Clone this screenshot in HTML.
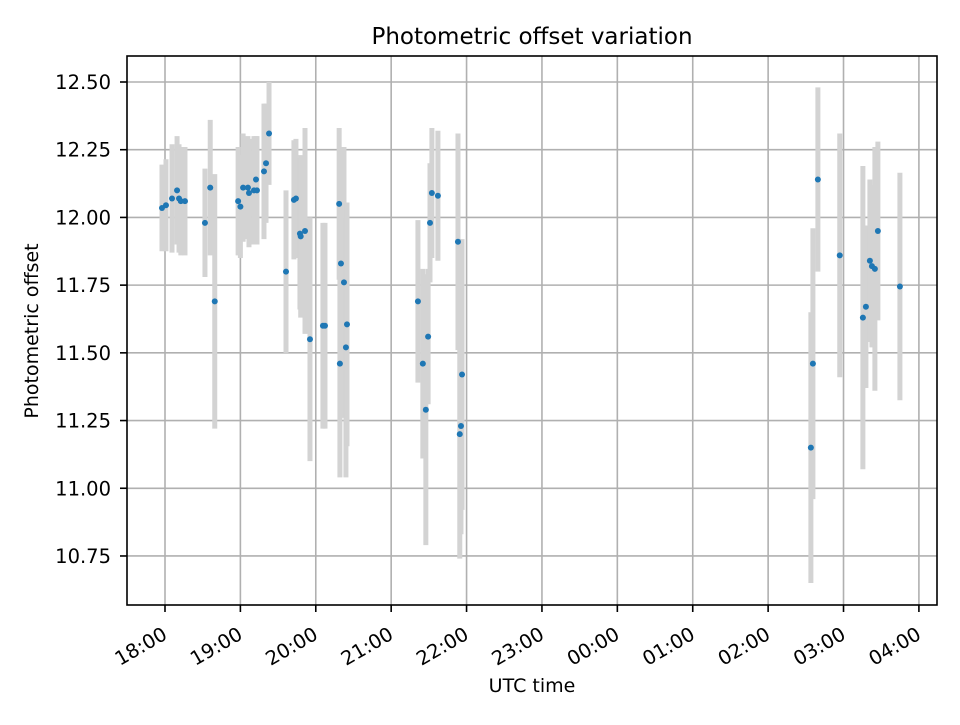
<!DOCTYPE html>
<html><head><meta charset="utf-8">
<style>body{margin:0;background:#fff}svg text{font-family:"DejaVu Sans","Liberation Sans",sans-serif;fill:#000}</style>
</head><body>
<svg id="chart" width="960" height="720" xmlns="http://www.w3.org/2000/svg">
<rect width="960" height="720" fill="#fff"/>
<text x="532" y="44" font-size="23" text-anchor="middle">Photometric offset variation</text>
<g id="grid"></g>
<g id="bars"></g>
<g id="pts"></g>
<rect x="127" y="56" width="810" height="549" fill="none" stroke="#000" stroke-width="1.6"/>
<g id="axes"></g>
<text x="532" y="692" font-size="19" text-anchor="middle">UTC time</text>
<text transform="translate(38,331) rotate(-90)" font-size="19" text-anchor="middle">Photometric offset</text>
</svg>
<script>
// hours after 18:00 UTC
const times=[-0.04,0.013,0.093,0.16,0.186,0.21,0.265,0.53,0.60,0.66,0.97,1.0,1.036,1.10,1.114,1.18,1.207,1.22,1.313,1.34,1.38,1.605,1.71,1.737,1.79,1.80,1.857,1.923,2.095,2.122,2.31,2.32,2.334,2.374,2.40,2.414,3.355,3.42,3.46,3.49,3.515,3.54,3.62,3.886,3.91,3.926,3.94,8.567,8.594,8.66,8.95,9.257,9.297,9.35,9.377,9.416,9.456,9.748];
const offsets=[12.035,12.045,12.07,12.10,12.07,12.06,12.06,11.98,12.11,11.69,12.06,12.04,12.11,12.11,12.09,12.10,12.14,12.10,12.17,12.20,12.31,11.80,12.065,12.07,11.94,11.93,11.95,11.55,11.60,11.60,12.05,11.46,11.83,11.76,11.52,11.605,11.69,11.46,11.29,11.56,11.98,12.09,12.08,11.91,11.20,11.23,11.42,11.15,11.46,12.14,11.86,11.63,11.67,11.84,11.82,11.81,11.95,11.745];
const errors=[0.16,0.17,0.2,0.2,0.2,0.2,0.2,0.2,0.25,0.47,0.2,0.19,0.2,0.19,0.2,0.2,0.16,0.2,0.25,0.22,0.19,0.3,0.22,0.22,0.28,0.3,0.38,0.45,0.38,0.38,0.28,0.42,0.42,0.5,0.48,0.45,0.3,0.35,0.5,0.25,0.22,0.24,0.24,0.4,0.46,0.4,0.5,0.5,0.5,0.34,0.45,0.56,0.3,0.3,0.3,0.45,0.33,0.42];
const xTickLabels=["18:00","19:00","20:00","21:00","22:00","23:00","00:00","01:00","02:00","03:00","04:00"];
const yTickLabels=["10.75","11.00","11.25","11.50","11.75","12.00","12.25","12.50"];
const X0=127,X1=937,Y0=56,Y1=605,xMin=-0.504,xMax=10.24,yMin=10.569,yMax=12.596;
const xs=v=>X0+(v-xMin)/(xMax-xMin)*(X1-X0);
const ys=v=>Y1-(v-yMin)/(yMax-yMin)*(Y1-Y0);
const NS="http://www.w3.org/2000/svg";
function mk(t,a,p){const e=document.createElementNS(NS,t);for(const k in a)e.setAttribute(k,a[k]);p.appendChild(e);return e;}
const grid=document.getElementById('grid'),axes=document.getElementById('axes');
xTickLabels.forEach((lab,i)=>{const x=xs(i);
 const g=mk('line',{x1:x,x2:x,y1:Y0,y2:Y1,stroke:'#b0b0b0','stroke-width':1.6},grid);
 
 
 const t=mk('line',{x1:x,x2:x,y1:Y1,y2:Y1+7,stroke:'#000','stroke-width':1.6},axes);
 
 
 const px=x+3.5,py=638;
 const tx=mk('text',{x:px,y:py,'font-size':19.5,'text-anchor':'end',transform:`rotate(-30 ${px} ${py})`},axes);
 tx.textContent=lab;
 
 
});
yTickLabels.forEach(lab=>{const y=ys(parseFloat(lab));
 const g=mk('line',{x1:X0,x2:X1,y1:y,y2:y,stroke:'#b0b0b0','stroke-width':1.6},grid);
 
 
 const t=mk('line',{x1:X0-7,x2:X0,y1:y,y2:y,stroke:'#000','stroke-width':1.6},axes);
 
 
 const tx=mk('text',{x:X0-16,y:y+7,'font-size':19.5,'text-anchor':'end'},axes);
 tx.textContent=lab;
 
 
});
const bars=document.getElementById('bars'),pts=document.getElementById('pts');
times.forEach((t,i)=>{const x=xs(t);
 const b=mk('line',{x1:x,x2:x,y1:ys(offsets[i]+errors[i]),y2:ys(offsets[i]-errors[i]),stroke:'#d3d3d3','stroke-width':5},bars);
 
 
});
times.forEach((t,i)=>{
 const c=mk('circle',{cx:xs(t),cy:ys(offsets[i]),r:3,fill:'#1f77b4'},pts);
 
 
});
</script>
</body></html>
